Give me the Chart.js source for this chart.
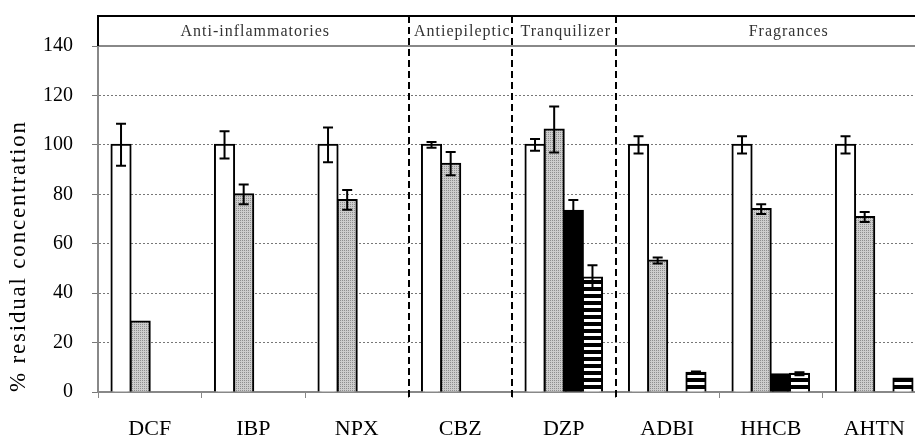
<!DOCTYPE html>
<html>
<head>
<meta charset="utf-8">
<script src="https://cdn.jsdelivr.net/npm/chart.js@4"></script>
<style>
  html, body { margin: 0; padding: 0; background: #fff; overflow: hidden; }
  #wrap { width: 926px; height: 438px; }
</style>
</head>
<body>
<div id="wrap"><canvas id="grafico" width="926" height="438"></canvas></div>
<script>
const compostos = ['DCF', 'IBP', 'NPX', 'CBZ', 'DZP', 'ADBI', 'HHCB', 'AHTN'];
const yTicks = [0, 20, 40, 60, 80, 100, 120, 140];

const controle = [100, 100, 100, 100, 100, 100, 100, 100];
const controleErr = [8.5, 5.5, 7, 1.2, 2.4, 3.5, 3.5, 3.5];
const cinza = [28.5, 80, 77.7, 92.4, 106.2, 53.2, 74, 70.8];
const cinzaErr = [0, 4, 4, 4.7, 9.3, 1.2, 2, 2];
const preto = [null, null, null, null, 73.3, null, 7.2, null];
const pretoErr = [0, 0, 0, 0, 4.4, 0, 0, 0];
const listrado = [null, null, null, null, 46.3, 7.8, 7.4, 5.5];
const listradoErr = [0, 0, 0, 0, 5, 0.5, 0.6, 0];

// grupos: [rótulo, primeiro índice, último índice]
const grupos = [
  ['Anti-inflammatories', 0, 2],
  ['Antiepileptic', 3, 3],
  ['Tranquilizer', 4, 4],
  ['Fragrances', 5, 7]
];

const erros = [controleErr, cinzaErr, pretoErr, listradoErr];

function padraoCinza() {
  const c = document.createElement('canvas');
  c.width = 2; c.height = 2;
  const g = c.getContext('2d');
  g.fillStyle = '#cdcdcd'; g.fillRect(0, 0, 2, 2);
  g.fillStyle = '#8e8e8e'; g.fillRect(0, 0, 1, 1);
  return g.createPattern(c, 'repeat');
}

function padraoListras() {
  const c = document.createElement('canvas');
  c.width = 4; c.height = 7;
  const g = c.getContext('2d');
  g.fillStyle = '#000'; g.fillRect(0, 0, 4, 7);
  g.fillStyle = '#fff'; g.fillRect(0, 4, 4, 3);
  return g.createPattern(c, 'repeat');
}

const serif = '"Liberation Serif", "DejaVu Serif", serif';

const extras = {
  id: 'extras',
  afterDatasetsDraw(chart) {
    const ctx = chart.ctx;
    const y = chart.scales.y;
    // barras de erro
    ctx.save();
    ctx.strokeStyle = '#000';
    ctx.lineWidth = 2;
    erros.forEach((errs, i) => {
      const meta = chart.getDatasetMeta(i);
      const vals = chart.data.datasets[i].data;
      meta.data.forEach((bar, j) => {
        if (vals[j] == null || !errs[j]) return;
        const top = y.getPixelForValue(vals[j] + errs[j]);
        const bot = y.getPixelForValue(vals[j] - errs[j]);
        ctx.beginPath();
        ctx.moveTo(bar.x, top); ctx.lineTo(bar.x, bot);
        ctx.moveTo(bar.x - 5, top); ctx.lineTo(bar.x + 5, top);
        ctx.moveTo(bar.x - 5, bot); ctx.lineTo(bar.x + 5, bot);
        ctx.stroke();
      });
    });
    ctx.restore();
  },
  afterDraw(chart) {
    const ctx = chart.ctx;
    const x = chart.scales.x;
    const area = chart.chartArea;
    const topo = 16;
    const limite = i => (x.getPixelForValue(i) + x.getPixelForValue(i + 1)) / 2;

    ctx.save();
    // linha 140 sólida
    ctx.strokeStyle = '#888';
    ctx.lineWidth = 2;
    ctx.beginPath();
    ctx.moveTo(area.left, area.top); ctx.lineTo(area.right, area.top);
    ctx.stroke();

    // moldura do cabeçalho
    ctx.strokeStyle = '#000';
    ctx.lineWidth = 2;
    ctx.beginPath();
    ctx.moveTo(area.left, area.top); ctx.lineTo(area.left, topo);
    ctx.lineTo(area.right, topo);
    ctx.stroke();

    // separadores tracejados
    ctx.setLineDash([7, 4]);
    grupos.slice(0, -1).forEach(g => {
      const px = Math.round(limite(g[2]));
      ctx.beginPath();
      ctx.moveTo(px, topo); ctx.lineTo(px, area.bottom + 8);
      ctx.stroke();
    });
    ctx.setLineDash([]);

    // rótulos dos grupos
    ctx.fillStyle = '#333';
    ctx.font = '16px ' + serif;
    ctx.letterSpacing = '1px';
    ctx.textAlign = 'center';
    ctx.textBaseline = 'middle';
    grupos.forEach((g, k) => {
      const a = g[1] === 0 ? area.left : limite(g[1] - 1);
      const b = k === grupos.length - 1 ? area.right + 32 : limite(g[2]);
      ctx.fillText(g[0], (a + b) / 2 + 2, (topo + area.top) / 2 + 1);
    });

    // título do eixo y
    ctx.fillStyle = '#000';
    ctx.font = '23px ' + serif;
    ctx.letterSpacing = '1.8px';
    ctx.translate(19, 256);
    ctx.rotate(-Math.PI / 2);
    ctx.fillText('% residual concentration', 0, 0);
    ctx.restore();
  }
};

const ctx = document.getElementById('grafico').getContext('2d');
new Chart(ctx, {
  type: 'bar',
  data: {
    labels: compostos,
    datasets: [
      { data: controle, backgroundColor: '#fff' },
      { data: cinza, backgroundColor: padraoCinza() },
      { data: preto, backgroundColor: '#000' },
      { data: listrado, backgroundColor: padraoListras() }
    ].map(d => Object.assign(d, {
      borderColor: '#000',
      borderWidth: 2,
      inflateAmount: 1,
      categoryPercentage: 0.74,
      barPercentage: 1.0
    }))
  },
  options: {
    responsive: false,
    animation: false,
    devicePixelRatio: 1,
    layout: { padding: { top: 46, left: 0, right: 0, bottom: 0 } },
    plugins: { legend: { display: false }, tooltip: { enabled: false } },
    scales: {
      x: {
        afterFit: s => { s.height = 46; },
        grid: { offset: true, drawOnChartArea: false, tickLength: 6, color: '#888', lineWidth: 1 },
        border: { color: '#888', width: 2 },
        ticks: { color: '#000', font: { family: serif, size: 22 }, padding: 18 }
      },
      y: {
        min: 0,
        max: 140,
        afterFit: s => { s.width = 98; },
        afterBuildTicks: s => { s.ticks = yTicks.map(v => ({ value: v })); },
        grid: { color: '#777', lineWidth: 1, tickLength: 6, drawTicks: true },
        border: { color: '#888', width: 2, dash: [2, 2] },
        ticks: { color: '#000', font: { family: serif, size: 20 }, padding: 19 }
      }
    }
  },
  plugins: [extras]
});
</script>
</body>
</html>
